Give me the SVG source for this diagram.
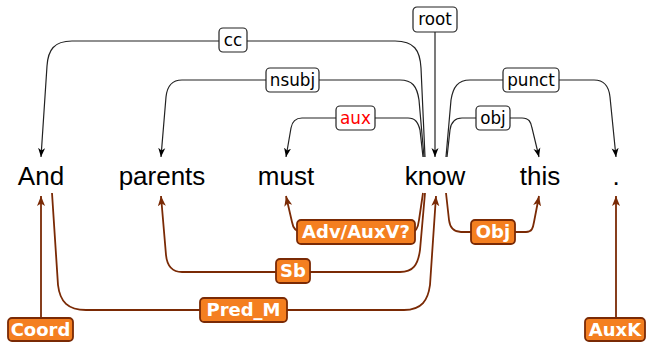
<svg xmlns="http://www.w3.org/2000/svg" width="646" height="343" viewBox="0 0 646 343">
<defs>
<style>
.word{font-family:"Liberation Sans",Arial,sans-serif;font-size:26px;fill:#000;text-anchor:middle}
.lab{font-family:"DejaVu Sans",sans-serif;font-size:16.8px;fill:#000;text-anchor:middle}
.blab{font-family:"DejaVu Sans",sans-serif;font-size:18px;font-weight:bold;fill:#fff;text-anchor:middle}
.up{fill:none;stroke:#222;stroke-width:1.2;marker-end:url(#ah)}
.dn{fill:none;stroke:#7a2a05;stroke-width:1.8;marker-end:url(#bh)}
.ub{fill:#fff;stroke:#222;stroke-width:1.2}
.bb{fill:#f47f20;stroke:#7a2a05;stroke-width:1.8}
</style>
<marker id="ah" markerUnits="userSpaceOnUse" markerWidth="10" markerHeight="8" refX="9" refY="4" orient="auto">
<path d="M0,0.5 L9,4 L0,7.5 L2.5,4 z" fill="#000"/>
</marker>
<marker id="bh" markerUnits="userSpaceOnUse" markerWidth="11" markerHeight="9" refX="10" refY="4.5" orient="auto">
<path d="M0,0.5 L10,4.5 L0,8.5 L2.5,4.5 z" fill="#7a2a05"/>
</marker>
</defs>
<g id="connectors">
<path class="up" d="M425,157 L421,68 C420,50 414,41 395,41 L72,41 C54,41 48,50 47,66 L41,157"/>
<path class="up" d="M424,157 L419,100 C417,86 412,80 400,80 L182,80 C171,80 167,87 166,97 L161,157"/>
<path class="up" d="M423,157 L420,130 C418,122 415,118 408,118 L302,118 C295,118 292,122 291,128 L286,157"/>
<path class="up" d="M435,32 L435,157"/>
<path class="up" d="M446,157 L451,100 C453,87 458,80 470,80 L594,80 C605,80 609,87 610,97 L616,157"/>
<path class="up" d="M447,157 L450,130 C451,122 455,118 462,118 L522,118 C529,118 531,122 532,128 L539,157"/>
<path class="dn" d="M41,318 L41,196"/>
<path class="dn" d="M52,193 L58,285 C60,302 68,310 86,310 L404,310 C422,310 428,300 430,285 L436,196"/>
<path class="dn" d="M425,193 L420,250 C418,265 413,272 400,272 L182,272 C171,272 167,265 166,255 L161,196"/>
<path class="dn" d="M423,193 L419,220 C418,228 416,232 412,232 L302,232 C296,232 293,228 292,222 L286,196"/>
<path class="dn" d="M446,193 L449,220 C450,228 454,232 461,232 L526,232 C532,232 533,228 534,222 L539,196"/>
<path class="dn" d="M616,318 L616,196"/>
</g>
<g id="edge-labels">
<g id="lab-cc"><rect class="ub" x="219" y="28" width="28" height="24" rx="4"/><text class="lab" x="233" y="45.5">cc</text></g>
<g id="lab-nsubj"><rect class="ub" x="266" y="68" width="53" height="24" rx="4"/><text class="lab" x="292.5" y="85.5">nsubj</text></g>
<g id="lab-aux"><rect class="ub" x="336" y="106" width="39" height="24" rx="4"/><text class="lab" x="355.5" y="123.5" style="fill:#ff0000">aux</text></g>
<g id="lab-root"><rect class="ub" x="413" y="7" width="44" height="25" rx="4"/><text class="lab" x="435" y="25">root</text></g>
<g id="lab-punct"><rect class="ub" x="503" y="68" width="56" height="24" rx="4"/><text class="lab" x="531" y="85.5">punct</text></g>
<g id="lab-obj"><rect class="ub" x="476" y="106" width="34" height="24" rx="4"/><text class="lab" x="493" y="123.5">obj</text></g>
<g id="lab-Coord"><rect class="bb" x="8" y="318" width="65" height="23" rx="4"/><text class="blab" x="40.5" y="336">Coord</text></g>
<g id="lab-PredM"><rect class="bb" x="200" y="298" width="87" height="24" rx="4"/><text class="blab" x="243.5" y="316">Pred_M</text></g>
<g id="lab-Sb"><rect class="bb" x="276" y="259" width="34" height="24" rx="4"/><text class="blab" x="293" y="277">Sb</text></g>
<g id="lab-Adv"><rect class="bb" x="297" y="220" width="118" height="24" rx="4"/><text class="blab" x="356" y="238">Adv/AuxV?</text></g>
<g id="lab-Obj"><rect class="bb" x="471" y="220" width="44" height="24" rx="4"/><text class="blab" x="493" y="238">Obj</text></g>
<g id="lab-AuxK"><rect class="bb" x="585" y="318" width="60" height="23" rx="4"/><text class="blab" x="615" y="336">AuxK</text></g>
</g>
<g id="nodes">
<g id="w-And"><text class="word" x="41" y="185">And</text></g>
<g id="w-parents"><text class="word" x="162" y="185">parents</text></g>
<g id="w-must"><text class="word" x="286" y="185">must</text></g>
<g id="w-know"><text class="word" x="435" y="185">know</text></g>
<g id="w-this"><text class="word" x="540" y="185">this</text></g>
<g id="w-dot"><text class="word" x="616" y="185">.</text></g>
</g>
</svg>
